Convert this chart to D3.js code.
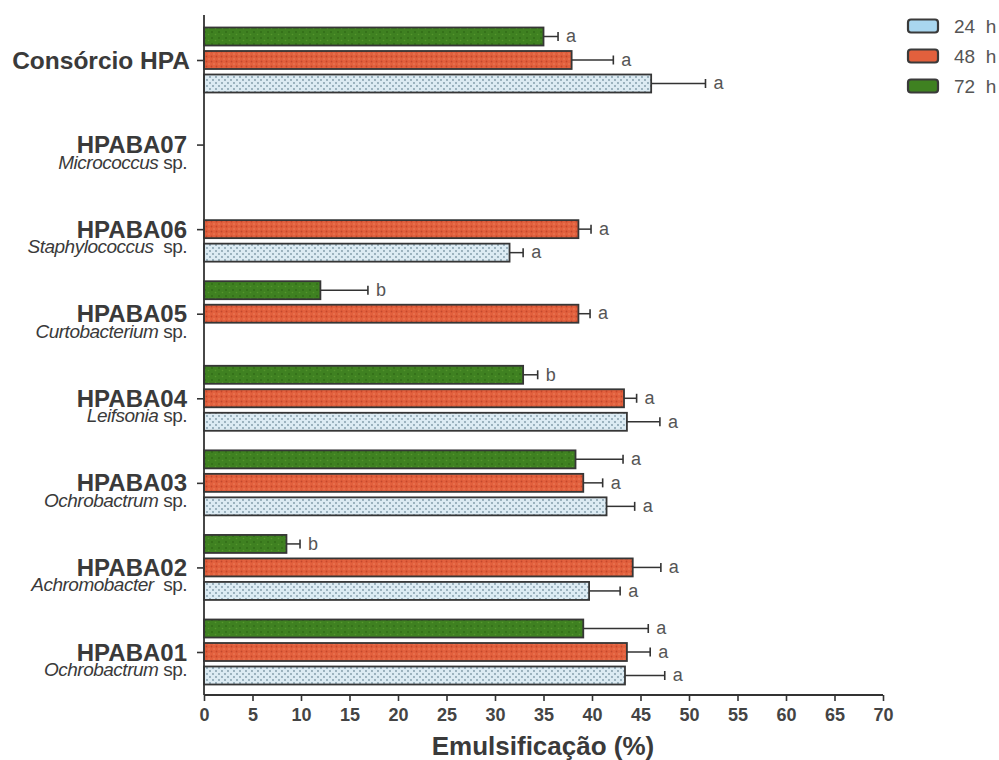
<!DOCTYPE html>
<html>
<head>
<meta charset="utf-8">
<script src="https://cdn.jsdelivr.net/npm/d3@7"></script>
<style>
  html, body { margin: 0; padding: 0; background: #fff; }
  svg { display: block; font-family: "Liberation Sans", Arial, sans-serif; }
</style>
</head>
<body>
<svg id="chart" width="999" height="760"></svg>
<script>
// Strains (top to bottom) and their genus names
const strains = ["Consórcio HPA", "HPABA07", "HPABA06", "HPABA05", "HPABA04", "HPABA03", "HPABA02", "HPABA01"];
const genera  = [null, "Micrococcus", "Staphylococcus ", "Curtobacterium", "Leifsonia", "Ochrobactrum", "Achromobacter ", "Ochrobactrum"];

// Emulsification (%) per incubation time, with error and significance letter
const series = ["24 h", "48 h", "72 h"];
const val24 = [46.1, null, 31.5, null, 43.6, 41.5, 39.7, 43.4];
const err24 = [5.6,  null, 1.4,  null, 3.4,  2.9,  3.2,  4.1];
const let24 = ["a",  null, "a",  null, "a",  "a",  "a",  "a"];
const val48 = [37.9, null, 38.6, 38.6, 43.3, 39.1, 44.2, 43.6];
const err48 = [4.3,  null, 1.3,  1.2,  1.3,  2.0,  2.9,  2.4];
const let48 = ["a",  null, "a",  "a",  "a",  "a",  "a",  "a"];
const val72 = [35.0, null, null, 12.0, 32.9, 38.3, 8.5,  39.1];
const err72 = [1.5,  null, null, 4.9,  1.5,  4.9,  1.4,  6.7];
const let72 = ["a",  null, null, "b",  "b",  "a",  "b",  "a"];

const xTicks = d3.range(0, 71, 5);

const svg = d3.select("#chart");
const defs = svg.append("defs");

// Textures for the three bar fills
const pBlue = defs.append("pattern").attr("id", "pat24").attr("patternUnits", "userSpaceOnUse")
  .attr("width", 6).attr("height", 6);
pBlue.append("rect").attr("width", 6).attr("height", 6).attr("fill", "#dcebf3");
pBlue.append("circle").attr("cx", 3).attr("cy", 2).attr("r", 0.9).attr("fill", "#7d98a6");
pBlue.append("circle").attr("cx", 0).attr("cy", 5).attr("r", 0.9).attr("fill", "#7d98a6");
pBlue.append("circle").attr("cx", 6).attr("cy", 5).attr("r", 0.9).attr("fill", "#7d98a6");

const pRed = defs.append("pattern").attr("id", "pat48").attr("patternUnits", "userSpaceOnUse")
  .attr("width", 5).attr("height", 5);
pRed.append("rect").attr("width", 5).attr("height", 5).attr("fill", "#e2603d");
pRed.append("circle").attr("cx", 1.5).attr("cy", 1.5).attr("r", 0.9).attr("fill", "#c4472b");
pRed.append("circle").attr("cx", 4).attr("cy", 4).attr("r", 0.7).attr("fill", "#ee8a66");

const pGreen = defs.append("pattern").attr("id", "pat72").attr("patternUnits", "userSpaceOnUse")
  .attr("width", 7).attr("height", 6);
pGreen.append("rect").attr("width", 7).attr("height", 6).attr("fill", "#3f8121");
pGreen.append("circle").attr("cx", 2).attr("cy", 2).attr("r", 1).attr("fill", "#316d17");
pGreen.append("circle").attr("cx", 5.5).attr("cy", 4.5).attr("r", 0.8).attr("fill", "#55962d");

const fills = { "24 h": "url(#pat24)", "48 h": "url(#pat48)", "72 h": "url(#pat72)" };
const swatch = { "24 h": "#a9d6ef", "48 h": "#e2603d", "72 h": "#3f8121" };

// Scales
const x = d3.scaleLinear().domain([0, 70]).range([204, 883]);
const y = d3.scalePoint().domain(strains).range([60, 652]);
const inner = d3.scaleBand().domain(["72 h", "48 h", "24 h"]).range([-35.25, 35.25])
  .paddingInner(0.234).paddingOuter(0.117);

const rows = [];
strains.forEach((s, i) => {
  [["24 h", val24, err24, let24], ["48 h", val48, err48, let48], ["72 h", val72, err72, let72]]
    .forEach(([k, v, e, l]) => {
      if (v[i] != null) rows.push({ strain: s, key: k, value: v[i], err: e[i], letter: l[i] });
    });
});

const ink = "#333";

// Bars
const g = svg.append("g");
g.selectAll("rect.bar").data(rows).join("rect")
  .attr("class", "bar")
  .attr("x", x(0))
  .attr("y", d => y(d.strain) + inner(d.key))
  .attr("width", d => x(d.value) - x(0))
  .attr("height", inner.bandwidth())
  .attr("fill", d => fills[d.key])
  .attr("stroke", "#363636")
  .attr("stroke-width", 1.8);

// Error bars (upper side only)
const eb = g.selectAll("g.err").data(rows).join("g").attr("class", "err")
  .attr("transform", d => `translate(0,${y(d.strain) + inner(d.key) + inner.bandwidth() / 2})`);
eb.append("line")
  .attr("x1", d => x(d.value)).attr("x2", d => x(d.value + d.err))
  .attr("stroke", ink).attr("stroke-width", 1.5);
eb.append("line")
  .attr("x1", d => x(d.value + d.err)).attr("x2", d => x(d.value + d.err))
  .attr("y1", -4.5).attr("y2", 4.5)
  .attr("stroke", ink).attr("stroke-width", 1.6);
eb.append("text")
  .attr("x", d => x(d.value + d.err) + 8)
  .attr("dy", "0.32em")
  .attr("font-size", 18).attr("fill", "#555")
  .text(d => d.letter);

// X axis
const xAxis = svg.append("g").attr("transform", "translate(0,695)")
  .call(d3.axisBottom(x).tickValues(xTicks).tickSize(6).tickPadding(7).tickFormat(d3.format("d")));
xAxis.select(".domain").attr("stroke", ink).attr("stroke-width", 1.8).attr("d", `M${x(0)},0H${x(70)}`);
xAxis.selectAll(".tick line").attr("stroke", ink).attr("stroke-width", 1.6);
xAxis.selectAll(".tick text").attr("font-size", 18).attr("font-weight", "bold").attr("fill", "#444")
  .attr("font-family", "Liberation Sans, Arial, sans-serif");

// Y axis
const yAxis = svg.append("g").attr("transform", `translate(${x(0)},0)`)
  .call(d3.axisLeft(y).tickSize(7).tickFormat(""));
yAxis.select(".domain").attr("stroke", ink).attr("stroke-width", 1.8).attr("d", "M0,15V695");
yAxis.selectAll(".tick line").attr("stroke", ink).attr("stroke-width", 1.6);

// Category labels: strain code in bold, genus in italic below
const lab = svg.append("g").attr("text-anchor", "end").attr("fill", "#3a3a3a");
strains.forEach((s, i) => {
  const first = i === 0;
  lab.append("text")
    .attr("x", first ? 190 : 187).attr("y", y(s)).attr("dy", "0.36em")
    .attr("font-size", first ? 24.5 : 24).attr("font-weight", "bold").attr("fill", "#3a3a3a")
    .text(s);
  if (genera[i]) {
    const t = lab.append("text")
      .attr("x", 187).attr("y", y(s) + 24)
      .attr("font-size", 19).attr("fill", "#3a3a3a").attr("letter-spacing", "-0.5")
      .attr("xml:space", "preserve").style("white-space", "pre");
    t.append("tspan").attr("font-style", "italic").text(genera[i]);
    t.append("tspan").text(" sp.");
  }
});

// Axis title
svg.append("text")
  .attr("x", 543).attr("y", 755)
  .attr("text-anchor", "middle")
  .attr("font-size", 26).attr("font-weight", "bold").attr("fill", "#3a3a3a")
  .text("Emulsificação (%)");

// Legend
const leg = svg.append("g").attr("transform", "translate(908,26)");
series.forEach((k, i) => {
  const r = leg.append("g").attr("transform", `translate(0,${i * 30})`);
  r.append("rect").attr("x", 0).attr("y", -6.5).attr("width", 30).attr("height", 13).attr("rx", 3)
    .attr("fill", swatch[k]).attr("stroke", "#3a3a3a").attr("stroke-width", 2.2);
  r.append("text").attr("x", 46).attr("dy", "0.35em")
    .attr("font-size", 19).attr("fill", "#555").attr("xml:space", "preserve")
    .style("white-space", "pre").text(k.replace(" ", "  "));
});
</script>
</body>
</html>
